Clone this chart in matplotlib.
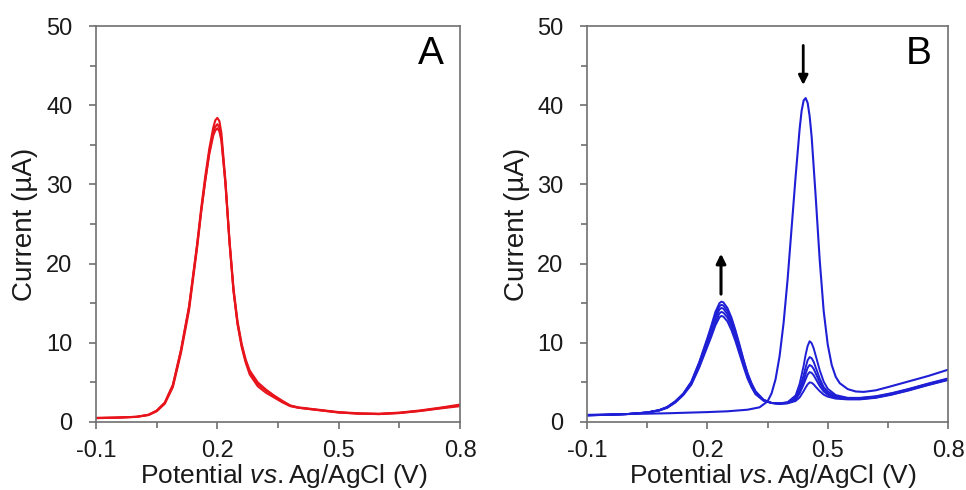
import numpy as np
import matplotlib
matplotlib.use("Agg")
import matplotlib.pyplot as plt

plt.rcParams['font.family'] = ['Liberation Sans', 'DejaVu Sans']
plt.rcParams['mathtext.fontset'] = 'custom'
plt.rcParams['mathtext.rm'] = 'Liberation Sans'
plt.rcParams['mathtext.it'] = 'Liberation Sans:italic'
plt.rcParams['axes.unicode_minus'] = False

# ---- panel A: repeated scans (red) ----
xa = [-0.10, -0.05, 0.00, 0.03, 0.05, 0.07, 0.09, 0.11, 0.13, 0.15, 0.16, 0.17,
      0.18, 0.19, 0.195, 0.20, 0.205, 0.21, 0.22, 0.23, 0.24, 0.25, 0.26, 0.27,
      0.28, 0.30, 0.32, 0.34, 0.36, 0.38, 0.40, 0.45, 0.50, 0.55, 0.60, 0.65,
      0.70, 0.75, 0.80]
redA1 = [0.50, 0.55, 0.65, 0.90, 1.4, 2.4, 4.6, 9.0, 14.5, 22.5, 27.0, 31.0,
         34.5, 37.2, 38.1, 38.4, 38.0, 36.5, 30.5, 22.8, 16.5, 12.3, 9.5, 7.5,
         6.0, 4.5, 3.7, 3.1, 2.5, 2.0, 1.8, 1.5, 1.2, 1.05, 1.0, 1.15,
         1.4, 1.75, 2.1]
redA2 = [0.48, 0.54, 0.64, 0.88, 1.35, 2.3, 4.4, 8.7, 14.1, 22.0, 26.5, 30.5,
         34.0, 36.6, 37.3, 37.6, 37.2, 35.8, 30.0, 22.6, 16.5, 12.4, 9.7, 7.7,
         6.3, 4.8, 4.0, 3.3, 2.6, 2.05, 1.8, 1.5, 1.2, 1.05, 1.0, 1.12,
         1.38, 1.7, 2.0]
redA3 = [0.52, 0.56, 0.66, 0.92, 1.45, 2.45, 4.7, 9.1, 14.6, 22.3, 26.6, 30.4,
         33.8, 36.2, 36.8, 37.1, 36.7, 35.5, 30.2, 23.0, 16.9, 12.7, 9.9, 7.9,
         6.5, 5.0, 4.1, 3.35, 2.7, 2.1, 1.85, 1.55, 1.25, 1.1, 1.05, 1.18,
         1.45, 1.8, 2.2]

# ---- panel B: initial scan (big peak) ----
xc = [-0.10, 0.00, 0.10, 0.20, 0.25, 0.30, 0.33, 0.35, 0.36, 0.37, 0.38, 0.39,
      0.40, 0.41, 0.42, 0.43, 0.435, 0.44, 0.445, 0.45, 0.455, 0.46, 0.47, 0.48,
      0.49, 0.50, 0.51, 0.52, 0.53, 0.55, 0.57, 0.59, 0.62, 0.65, 0.70, 0.75, 0.80]
blue0 = [0.90, 1.00, 1.10, 1.25, 1.35, 1.55, 1.85, 2.6, 3.6, 5.4, 8.3, 12.5,
         18.0, 24.5, 31.0, 37.0, 39.3, 40.6, 40.9, 40.3, 38.6, 36.0, 28.5, 20.5,
         14.0, 9.8, 7.2, 5.7, 4.9, 4.15, 3.85, 3.8, 4.0, 4.4, 5.1, 5.8, 6.6]

# ---- panel B: later scans (two peaks) ----
xb = [-0.10, -0.05, 0.00, 0.05, 0.08, 0.10, 0.12, 0.14, 0.16, 0.18, 0.20, 0.21,
      0.22, 0.23, 0.235, 0.24, 0.25, 0.26, 0.27, 0.28, 0.29, 0.30, 0.31, 0.32,
      0.34, 0.36, 0.38, 0.40, 0.42, 0.43, 0.44, 0.445, 0.45, 0.455, 0.46, 0.465,
      0.47, 0.48, 0.49, 0.50, 0.52, 0.55, 0.58, 0.62, 0.66, 0.70, 0.75, 0.80]
blue1 = [0.85, 0.9, 1.0, 1.2, 1.5, 1.9, 2.6, 3.6, 5.1, 7.6, 10.6, 12.2,
         13.9, 15.0, 15.2, 15.1, 14.4, 13.2, 11.6, 9.8, 7.9, 6.2, 4.9, 3.9,
         2.8, 2.4, 2.3, 2.35, 2.65, 3.1, 3.9, 4.35, 4.75, 5.0, 4.95, 4.75,
         4.45, 3.9, 3.45, 3.2, 2.95, 2.85, 2.85, 3.05, 3.45, 3.95, 4.65, 5.3]
blue2 = [0.84, 0.9, 1.0, 1.2, 1.5, 1.9, 2.6, 3.55, 5.0, 7.5, 10.4, 11.9,
         13.5, 14.6, 14.8, 14.7, 14.0, 12.9, 11.3, 9.6, 7.8, 6.1, 4.8, 3.8,
         2.8, 2.4, 2.3, 2.4, 2.85, 3.6, 4.75, 5.4, 6.0, 6.3, 6.2, 5.9,
         5.45, 4.55, 3.85, 3.45, 3.05, 2.9, 2.9, 3.1, 3.5, 4.0, 4.7, 5.35]
blue3 = [0.86, 0.92, 1.0, 1.2, 1.5, 1.85, 2.55, 3.5, 4.9, 7.3, 10.1, 11.6,
         13.1, 14.2, 14.4, 14.3, 13.6, 12.5, 11.0, 9.3, 7.6, 5.9, 4.7, 3.7,
         2.75, 2.4, 2.3, 2.4, 2.95, 3.85, 5.2, 6.1, 6.85, 7.2, 7.05, 6.7,
         6.15, 5.0, 4.1, 3.6, 3.15, 2.95, 2.95, 3.15, 3.55, 4.05, 4.75, 5.4]
blue4 = [0.85, 0.91, 1.0, 1.2, 1.45, 1.8, 2.5, 3.45, 4.8, 7.1, 9.8, 11.2,
         12.6, 13.7, 13.9, 13.8, 13.2, 12.1, 10.6, 8.9, 7.3, 5.7, 4.5, 3.6,
         2.7, 2.4, 2.35, 2.45, 3.1, 4.2, 5.9, 6.9, 7.8, 8.2, 8.05, 7.6,
         6.9, 5.5, 4.4, 3.85, 3.25, 3.0, 3.0, 3.2, 3.6, 4.1, 4.8, 5.45]
blue5 = [0.84, 0.9, 1.0, 1.2, 1.45, 1.8, 2.45, 3.4, 4.7, 6.9, 9.5, 10.8,
         12.2, 13.2, 13.4, 13.3, 12.7, 11.6, 10.2, 8.6, 7.0, 5.5, 4.4, 3.5,
         2.7, 2.4, 2.35, 2.5, 3.35, 4.8, 7.1, 8.5, 9.6, 10.2, 9.95, 9.3,
         8.4, 6.55, 5.1, 4.2, 3.4, 3.05, 3.05, 3.25, 3.65, 4.15, 4.85, 5.5]

xtick_vals = [-0.1, 0.2, 0.5, 0.8]
xtick_labels = ['-0.1', '0.2', '0.5', '0.8']
xminor_vals = [0.05, 0.35, 0.65]
ytick_vals = [0, 10, 20, 30, 40, 50]
yminor_vals = [5, 15, 25, 35, 45]

RED = '#e8141c'
BLUE = '#1f1fd6'
GRAY = '#6f6f6f'


def style_axes(ax, letter):
    ax.set_xlim(-0.1, 0.8)
    ax.set_ylim(0, 50)
    ax.set_xticks(xtick_vals)
    ax.set_xticklabels(xtick_labels)
    ax.set_xticks(xminor_vals, minor=True)
    ax.set_yticks(ytick_vals)
    ax.set_yticks(yminor_vals, minor=True)
    for s in ax.spines.values():
        s.set_color(GRAY)
        s.set_linewidth(1.2)
    ax.tick_params(which='both', direction='out', color=GRAY, width=1.2,
                   labelsize=17, labelcolor='#1a1a1a')
    ax.tick_params(which='major', length=5)
    ax.tick_params(which='minor', length=4)
    ax.tick_params(axis='x', which='major', pad=8)
    ax.tick_params(axis='y', which='major', pad=12)
    ax.set_xlabel('Potential $\\mathit{vs.}$Ag/AgCl (V)', fontsize=19, color='#1a1a1a')
    ax.xaxis.label.set_va('baseline')
    ax.xaxis.set_label_coords(0.515, -0.155)
    ax.set_ylabel('Current (\u00b5A)', fontsize=20, color='#1a1a1a')
    ax.yaxis.label.set_va('center')
    ax.yaxis.set_label_coords(-0.195, 0.5)
    ax.text(0.728, 46.5, letter, fontsize=28, ha='center', va='center', color='black')


fig = plt.figure(figsize=(9.66, 4.9), dpi=100)
axA = fig.add_axes([0.0994, 0.1388, 0.3768, 0.8081])
axB = fig.add_axes([0.6077, 0.1388, 0.3737, 0.8081])

for ys in (redA1, redA2, redA3):
    axA.plot(xa, ys, color=RED, lw=1.5)
style_axes(axA, 'A')

axB.plot(xc, blue0, color=BLUE, lw=1.5)
for ys in (blue1, blue2, blue3, blue4, blue5):
    axB.plot(xb, ys, color=BLUE, lw=1.4)
style_axes(axB, 'B')

# arrows showing trend of the two peaks
up_x, up_from, up_to = 0.234, 15.8, 21.6
down_x, down_from, down_to = 0.439, 47.9, 42.2
axB.annotate('', xy=(up_x, up_to), xytext=(up_x, up_from),
             arrowprops=dict(arrowstyle='-|>', color='black', lw=2.2, mutation_scale=14))
axB.annotate('', xy=(down_x, down_to), xytext=(down_x, down_from),
             arrowprops=dict(arrowstyle='-|>', color='black', lw=2.0, mutation_scale=14))

plt.savefig('out.png', dpi=100)
